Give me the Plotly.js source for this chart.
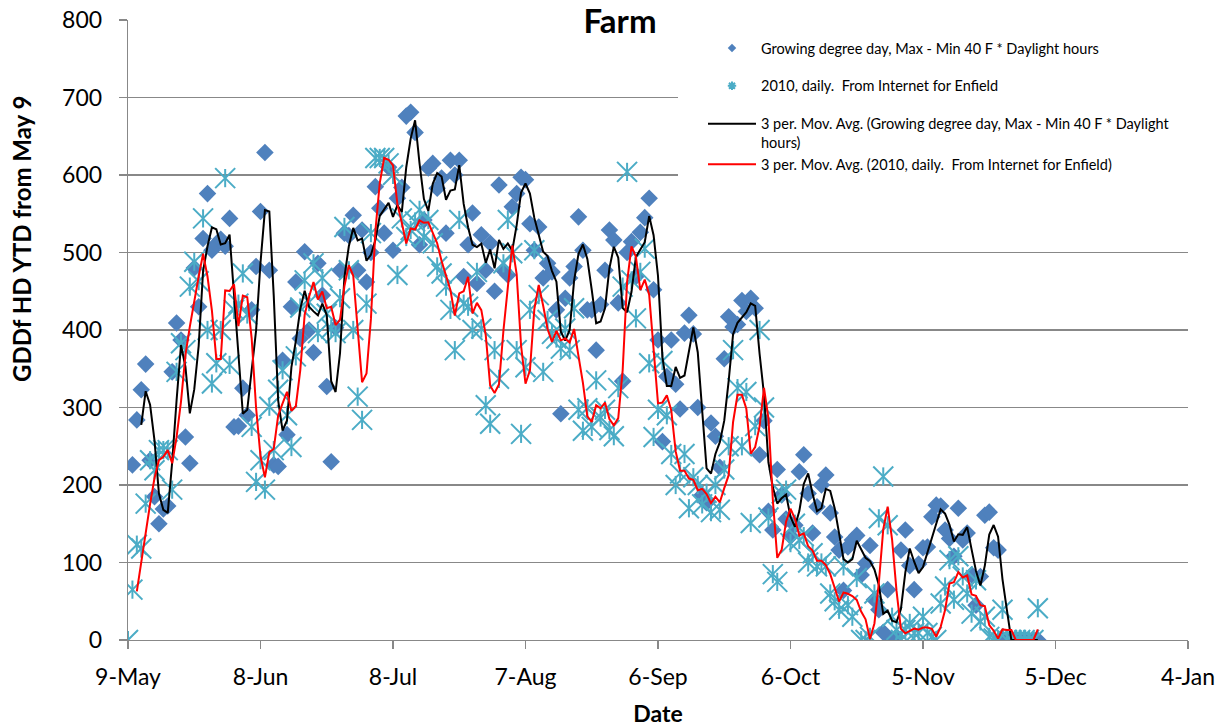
<!DOCTYPE html>
<html>
<head>
<meta charset="utf-8">
<script src="https://cdn.plot.ly/plotly-3.0.1.min.js"></script>
<style>
  html, body { margin: 0; padding: 0; background: #ffffff; }
  #chart { width: 1223px; height: 727px; }
</style>
</head>
<body>
<div id="chart"></div>
<script>
// ---- Data ----
// Growing degree day series: daily values starting 10-May-2010
const gddStart = '2010-05-10';
const gddValues = [
  226, 284, 323, 356, 232, 185, 150, 169, 173, 346, 409, 387, 262, 228, 480, 430, 518, 576, 503, 511, 517, 508, 544, 275, 276, 325, 290,
  426, 482, 553, 629, 477, 226, 224, 361, 265, 430, 462, 389, 501, 400, 371, 486, 445, 327, 230, 403, 477, 525, 522, 548, 477, 529, 462,
  500, 585, 557, 525, 610, 503, 570, 584, 676, 681, 655, 510, 542, 609, 615, 583, 596, 525, 619, 600, 619, 469, 510, 551, 460, 523, 477,
  512, 450, 587, 477, 471, 559, 576, 597, 594, 537, 503, 533, 467, 486, 475, 426, 292, 441, 467, 482, 546, 503, 426, 426,
  374, 433, 477, 529, 516, 435, 334, 500, 514, 469, 526, 545, 570, 452, 387, 256, 340, 387, 330, 298, 396, 419, 395, 300, 187, 177, 280, 263, 223, 363, 417,
  404, 407, 438, 424, 441, 428, 239, 283, 166, 142, 220, 187, 156, 134, 148, 217, 239, 189, 138, 172, 200, 213, 164, 133, 116, 64, 120, 129, 135,
  84, 99, 122, 52, 39, 10, 65, 0, 4, 116, 142, 96, 65, 98, 119, 120, 159, 174, 173, 142, 131, 108, 170, 129, 138, 84, 45, 82, 161, 165, 119, 116,
  0, 0, 0, 0, 0, 0, 0, 0, 0
];
// 2010 Enfield series: daily values starting 9-May-2010
const enfieldStart = '2010-05-09';
const enfieldValues = [
  0, 65, 123, 118, 176, 232, 219, 245, 245, 245, 194, 346, 383, 374, 456, 488, 463, 544, 400, 331, 357, 400, 596, 355, 426, 434, 473, 420,
  275, 204, 232, 194, 301, 245, 323, 348, 290, 249, 366, 429, 464, 436, 486, 396, 467, 421, 402, 396, 441, 533, 477, 400, 314, 284, 434,
  525, 622, 622, 622, 615, 600, 471, 544, 520, 529, 540, 555, 520, 542, 512, 482, 473, 456, 426, 374, 542, 434, 430, 400, 475, 402, 303,
  279, 374, 337, 486, 542, 499, 374, 266, 352, 426, 503, 445, 346, 413, 395, 389, 376, 402, 374, 428, 297, 270, 299, 275, 335, 287,
  297, 271, 263, 325, 456, 604, 464, 415, 475, 505, 357, 262, 297, 360, 290, 240, 200, 215, 240, 170, 210, 200, 175, 190, 165, 200, 168, 220,
  250, 374, 325, 250, 320, 151, 276, 400, 300, 158, 85, 75, 189, 194, 125, 150, 129, 134, 100, 112, 95, 100, 95, 60, 50, 39, 95, 45, 30, 80,
  0, 0, 4, 60, 157, 211, 148, 30, 13, 0, 13, 22, 9, 9, 30, 9, 4, 0, 47, 69, 103, 52, 108, 82, 60, 34, 77, 24, 30, 4, 2, 0, 39, 0, 0, 0, 0, 0, 0, 0, 41
];
const tickDates  = ['2010-05-09','2010-06-08','2010-07-08','2010-08-07','2010-09-06','2010-10-06','2010-11-05','2010-12-05','2011-01-04'];
const tickLabels = ['9-May','8-Jun','8-Jul','7-Aug','6-Sep','6-Oct','5-Nov','5-Dec','4-Jan'];
const seriesNames = [
  'Growing degree day, Max - Min 40 F * Daylight hours',
  '2010, daily.  From Internet for Enfield',
  '3 per. Mov. Avg. (Growing degree day, Max - Min 40 F * Daylight<br>hours)',
  '3 per. Mov. Avg. (2010, daily.  From Internet for Enfield)'
];
const yTitle = 'GDDf HD YTD from May 9';

// ---- helpers ----
function dailyDates(start, n) {
  const p = start.split('-').map(Number);
  const t0 = Date.UTC(p[0], p[1] - 1, p[2]);
  const out = [];
  for (let i = 0; i < n; i++) {
    const d = new Date(t0 + i * 86400000);
    out.push(d.toISOString().slice(0, 10));
  }
  return out;
}
function movingAvg(xs, ys, period) {
  const mx = [], my = [];
  for (let i = period - 1; i < ys.length; i++) {
    let s = 0;
    for (let k = i - period + 1; k <= i; k++) s += ys[k];
    mx.push(xs[i]); my.push(s / period);
  }
  return { x: mx, y: my };
}

const gddX = dailyDates(gddStart, gddValues.length);
const enfX = dailyDates(enfieldStart, enfieldValues.length);
const gddMA = movingAvg(gddX, gddValues, 3);
const enfMA = movingAvg(enfX, enfieldValues, 3);

const FONT = 'Lato, "Open Sans", "DejaVu Sans", sans-serif';
const blue = '#4F81BD';
const cyan = '#4BACC6';

const traces = [
  // data traces (legend entries are drawn by the small-symbol key entries below)
  { type: 'scatter', mode: 'markers', x: gddX, y: gddValues, name: seriesNames[0],
    legendgroup: 'g1', showlegend: false,
    marker: { symbol: 'diamond', size: 13.5, color: blue, line: { width: 0 } } },
  { type: 'scatter', mode: 'markers', x: enfX, y: enfieldValues, name: seriesNames[1],
    legendgroup: 'g2', showlegend: false,
    marker: { symbol: 'x-thin-open', size: 20, color: cyan, line: { width: 2, color: cyan } } },
  { type: 'scatter', mode: 'markers', x: enfX, y: enfieldValues, name: seriesNames[1],
    legendgroup: 'g2', showlegend: false,
    marker: { symbol: 'line-ns-open', size: 13, color: cyan, line: { width: 2, color: cyan } } },
  { type: 'scatter', mode: 'lines', x: gddMA.x, y: gddMA.y, name: seriesNames[2],
    legendgroup: 'g3', showlegend: true, legendrank: 3, line: { color: '#000000', width: 2 } },
  { type: 'scatter', mode: 'lines', x: enfMA.x, y: enfMA.y, name: seriesNames[3],
    legendgroup: 'g3', showlegend: true, legendrank: 4, line: { color: '#FF0000', width: 2 } },
  // legend keys for the two marker series (small symbols as in the original key)
  { type: 'scatter', mode: 'markers', x: [null], y: [null], name: seriesNames[0],
    legendgroup: 'g1', legendrank: 1, showlegend: true,
    marker: { symbol: 'diamond', size: 6.5, color: blue, line: { width: 0 } } },
  { type: 'scatter', mode: 'markers', x: [null], y: [null], name: seriesNames[1],
    legendgroup: 'g2', legendrank: 2, showlegend: true,
    marker: { symbol: 'asterisk-open', size: 7, color: cyan, line: { width: 2, color: cyan } } }
];

const layout = {
  width: 1223, height: 727,
  paper_bgcolor: '#ffffff', plot_bgcolor: '#ffffff',
  margin: { l: 128, r: 35, t: 20, b: 87, pad: 0 },
  font: { family: FONT, color: '#000000', size: 23 },
  title: { text: 'Farm', x: 620 / 1223, xanchor: 'center', xref: 'container',
           y: 1 - 21 / 727, yref: 'container', yanchor: 'middle',
           font: { family: FONT, size: 33, weight: 'bold', color: '#000000' } },
  xaxis: {
    type: 'date', range: ['2010-05-09', '2011-01-04'],
    tickmode: 'array', tickvals: tickDates, ticktext: tickLabels,
    showgrid: false, zeroline: false,
    showline: true, linecolor: '#888888', linewidth: 1.3,
    ticks: 'outside', ticklen: 8, tickcolor: '#888888', tickwidth: 1.3,
    tickfont: { family: FONT, size: 23, color: '#000000' },
    ticklabelstandoff: 8,
    title: { text: 'Date', standoff: 17, font: { family: FONT, size: 23, weight: 'bold', color: '#000000' } },
    automargin: false, fixedrange: true
  },
  yaxis: {
    range: [0, 800], tickmode: 'linear', tick0: 0, dtick: 100,
    showgrid: true, gridcolor: '#888888', gridwidth: 1.3,
    zeroline: false,
    showline: true, linecolor: '#888888', linewidth: 1.3,
    ticks: 'outside', ticklen: 8, tickcolor: '#888888', tickwidth: 1.3,
    tickfont: { family: FONT, size: 23, color: '#000000' },
    ticklabelstandoff: 12,
    automargin: false, fixedrange: true
  },
  // y-axis title placed where the original has it (upper part of the axis)
  annotations: [
    { text: yTitle, textangle: -90, showarrow: false,
      xref: 'paper', yref: 'paper',
      x: (21 - 128) / 1060, y: (640 - 239) / 620, xanchor: 'center', yanchor: 'middle',
      font: { family: FONT, size: 24, weight: 'bold', color: '#000000' } }
  ],
  // white key background, as in the original (covers the gridlines behind the key)
  shapes: [
    { type: 'rect', xref: 'paper', yref: 'paper', layer: 'above',
      x0: (678 - 128) / 1060, x1: 1, y0: (640 - 181) / 620, y1: (640 - 25) / 620,
      fillcolor: '#ffffff', line: { width: 0 } }
  ],
  showlegend: true,
  legend: {
    x: (703 - 128) / 1060, y: (640 - 32) / 620, xanchor: 'left', yanchor: 'top',
    bgcolor: 'rgba(255,255,255,0)', borderwidth: 0,
    font: { family: FONT, size: 14.5, color: '#000000' },
    traceorder: 'grouped', tracegroupgap: 16, valign: 'top',
    itemwidth: 48, itemclick: false, itemdoubleclick: false
  },
  hovermode: false
};

Plotly.newPlot('chart', traces, layout, { displayModeBar: false, staticPlot: true });
</script>
</body>
</html>
